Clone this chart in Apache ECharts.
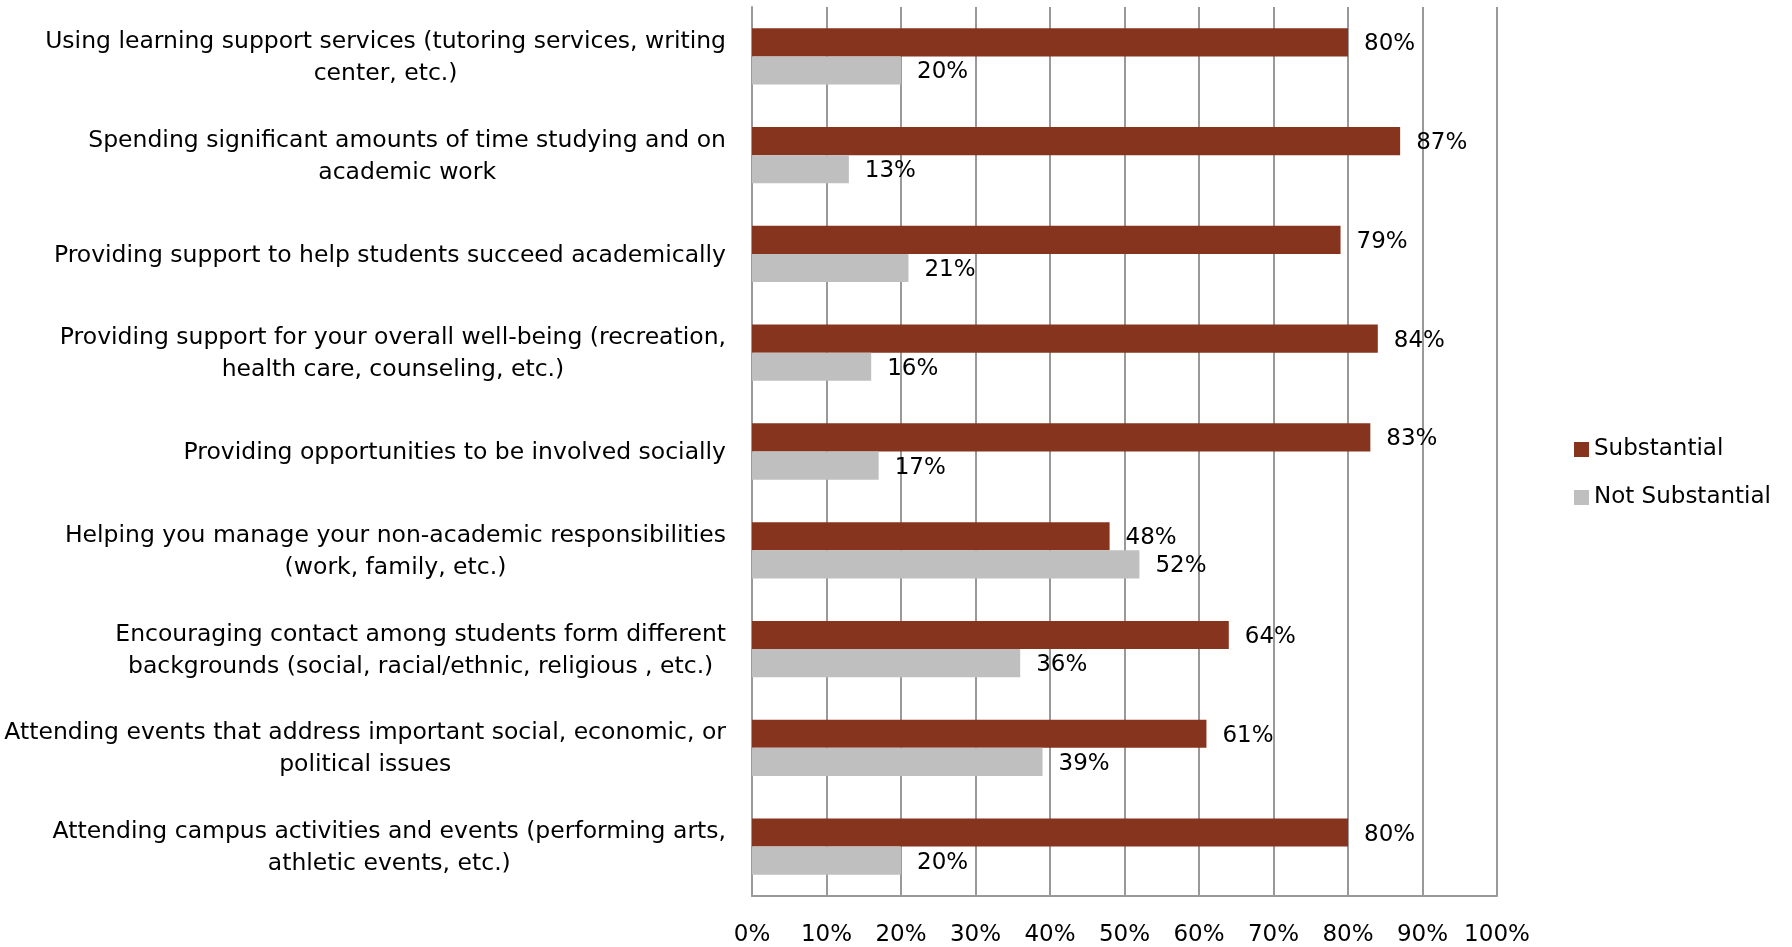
<!DOCTYPE html>
<html>
<head>
<meta charset="utf-8">
<title>Substantial vs Not Substantial</title>
<script src="https://cdn.jsdelivr.net/npm/echarts@6/dist/echarts.min.js"></script>
<style>
  html, body { margin: 0; padding: 0; background: #fff; }
  #chart { width: 1792px; height: 947px; }
</style>
</head>
<body>
<div id="chart"></div>
<script>
// Survey items, top to bottom (line breaks as printed)
const categories = [
  'Using learning support services (tutoring services, writing\ncenter, etc.)',
  'Spending significant amounts of time studying and on\nacademic work',
  'Providing support to help students succeed academically',
  'Providing support for your overall well-being (recreation,\nhealth care, counseling, etc.)',
  'Providing opportunities to be involved socially',
  'Helping you manage your non-academic responsibilities\n(work, family, etc.)',
  'Encouraging contact among students form different\nbackgrounds (social, racial/ethnic, religious , etc.)',
  'Attending events that address important social, economic, or\npolitical issues',
  'Attending campus activities and events (performing arts,\nathletic events, etc.)'
];

const substantial    = [80, 87, 79, 84, 83, 48, 64, 61, 80];
const notSubstantial = [20, 13, 21, 16, 17, 52, 36, 39, 20];

const seriesNames = ['Substantial', 'Not Substantial'];
const xTicks = { min: 0, max: 100, interval: 10 };

const FONT = 'DejaVu Sans';
const FONT_SIZE = 23;
const CAT_FONT_SIZE = 23.5;
const GRID_COLOR = '#999999';

const chart = echarts.init(document.getElementById('chart'));

// Each label block is right-aligned next to the axis, its lines centred
function centreLines(text) {
  return text.split('\n').map(l => '{c|' + l + '}').join('\n');
}

function valueLabel() {
  return {
    show: true,
    position: 'right',
    distance: 16,
    offset: [0, 2],
    formatter: '{c}%',
    fontFamily: FONT,
    fontSize: FONT_SIZE,
    color: '#000'
  };
}

chart.setOption({
  animation: false,
  textStyle: { fontFamily: FONT },
  grid: { left: 752, right: 295, top: 7, bottom: 48, containLabel: false },
  legend: {
    orient: 'vertical',
    left: 1574,
    top: 438,
    padding: 0,
    itemWidth: 15,
    itemHeight: 15,
    itemGap: 25,
    icon: 'rect',
    textStyle: { fontFamily: FONT, fontSize: FONT_SIZE, color: '#000' },
    data: seriesNames
  },
  xAxis: {
    type: 'value',
    min: xTicks.min,
    max: xTicks.max,
    interval: xTicks.interval,
    axisLine: { show: true, lineStyle: { color: GRID_COLOR, width: 2 } },
    axisTick: { show: false },
    splitLine: { show: true, lineStyle: { color: GRID_COLOR, width: 2 } },
    axisLabel: {
      formatter: '{value}%',
      fontFamily: FONT,
      fontSize: FONT_SIZE,
      color: '#000',
      margin: 28
    }
  },
  yAxis: {
    type: 'category',
    inverse: true,
    data: categories,
    axisLine: { show: true, lineStyle: { color: GRID_COLOR, width: 2 } },
    axisTick: { show: false },
    splitLine: { show: false },
    axisLabel: {
      margin: 26,
      align: 'right',
      color: '#000',
      fontFamily: FONT,
      fontSize: CAT_FONT_SIZE,
      lineHeight: 32,
      padding: [3, 0, 0, 0],
      formatter: centreLines,
      rich: {
        c: { align: 'center', fontFamily: FONT, fontSize: CAT_FONT_SIZE, lineHeight: 32, color: '#000' }
      }
    }
  },
  series: [
    {
      name: seriesNames[0],
      type: 'bar',
      data: substantial,
      barGap: '0%',
      barCategoryGap: '43%',
      itemStyle: { color: '#86341E' },
      label: valueLabel()
    },
    {
      name: seriesNames[1],
      type: 'bar',
      data: notSubstantial,
      barGap: '0%',
      barCategoryGap: '43%',
      itemStyle: { color: '#BFBFBF' },
      label: valueLabel()
    }
  ]
});
</script>
</body>
</html>
